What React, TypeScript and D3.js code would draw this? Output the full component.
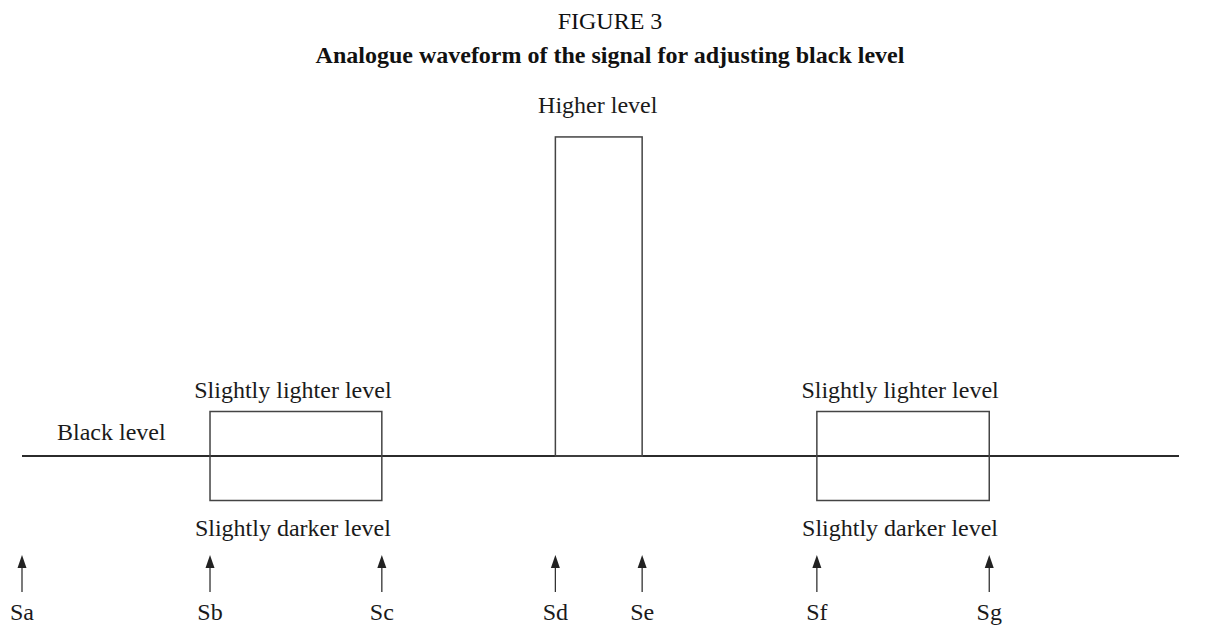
import React, { useEffect, useRef } from "react";
import * as d3 from "d3";

// sample instants along the line (arbitrary time units)
const markerNames = ["Sa", "Sb", "Sc", "Sd", "Se", "Sf", "Sg"];
const markerTimes = [0, 16.25, 31.1, 46.1, 53.6, 68.7, 83.6];

// signal levels relative to black (arbitrary units)
const blackLevel = 0;
const lighterLevel = 1;
const darkerLevel = -1;
const higherLevel = 7.17;

// pulses between two markers, with their top and bottom levels
const pulses = [
  { from: "Sb", to: "Sc", top: lighterLevel, bottom: darkerLevel },
  { from: "Sd", to: "Se", top: higherLevel, bottom: blackLevel },
  { from: "Sf", to: "Sg", top: lighterLevel, bottom: darkerLevel },
];

const W = 1205;
const H = 627;

export default function App() {
  const ref = useRef<SVGSVGElement>(null);

  useEffect(() => {
    const svg = d3.select(ref.current);
    svg.selectAll("*").remove();

    const font = "'Liberation Serif', 'Times New Roman', serif";
    const x = d3.scaleLinear().domain([0, 100]).range([22, 1179]);
    const y = d3.scaleLinear().domain([0, 1]).range([456, 411.5]);
    const tAt = (name: string) => markerTimes[markerNames.indexOf(name)];

    // titles
    svg
      .append("text")
      .attr("x", 610)
      .attr("y", 29)
      .attr("text-anchor", "middle")
      .attr("font-family", font)
      .attr("font-size", 24)
      .attr("fill", "#111")
      .text("FIGURE 3");

    svg
      .append("text")
      .attr("x", 610)
      .attr("y", 63)
      .attr("text-anchor", "middle")
      .attr("font-family", font)
      .attr("font-weight", "bold")
      .attr("font-size", 24)
      .attr("fill", "#111")
      .text("Analogue waveform of the signal for adjusting black level");

    // black level line
    svg
      .append("line")
      .attr("x1", x(0))
      .attr("x2", x(100))
      .attr("y1", y(blackLevel))
      .attr("y2", y(blackLevel))
      .attr("stroke", "#2b2b2b")
      .attr("stroke-width", 2);

    // pulse boxes
    svg
      .selectAll(".pulse")
      .data(pulses)
      .enter()
      .append("rect")
      .attr("class", "pulse")
      .attr("x", (d) => x(tAt(d.from)))
      .attr("width", (d) => x(tAt(d.to)) - x(tAt(d.from)))
      .attr("y", (d) => y(d.top))
      .attr("height", (d) => y(d.bottom) - y(d.top))
      .attr("fill", "none")
      .attr("stroke", "#444")
      .attr("stroke-width", 1.5);

    const label = (tx: number, ty: number, s: string, anchor = "middle") =>
      svg
        .append("text")
        .attr("x", tx)
        .attr("y", ty)
        .attr("text-anchor", anchor)
        .attr("font-family", font)
        .attr("font-size", 24)
        .attr("fill", "#1a1a1a")
        .text(s);

    label(57, 440, "Black level", "start");
    pulses.forEach((p) => {
      const cx = (x(tAt(p.from)) + x(tAt(p.to))) / 2;
      if (p.top === higherLevel) {
        label(cx - 1, 113, "Higher level");
      } else {
        label(cx - 3, y(p.top) - 14, "Slightly lighter level");
        label(cx - 3, y(p.bottom) + 35, "Slightly darker level");
      }
    });

    // arrows
    const arrows = svg
      .selectAll(".marker")
      .data(markerNames)
      .enter()
      .append("g")
      .attr("class", "marker")
      .attr("transform", (d, i) => `translate(${x(markerTimes[i])},0)`);

    arrows
      .append("line")
      .attr("y1", 566)
      .attr("y2", 592)
      .attr("stroke", "#333")
      .attr("stroke-width", 1.3);

    arrows
      .append("path")
      .attr("d", "M0,555 L-4.5,568 L4.5,568 Z")
      .attr("fill", "#222");

    arrows
      .append("text")
      .attr("y", 620)
      .attr("text-anchor", "middle")
      .attr("font-family", font)
      .attr("font-size", 24)
      .attr("fill", "#1a1a1a")
      .text((d) => d);
  }, []);

  return (
    <svg
      ref={ref}
      width={W}
      height={H}
      style={{ position: "absolute", left: 0, top: 0, background: "#fff" }}
    />
  );
}
